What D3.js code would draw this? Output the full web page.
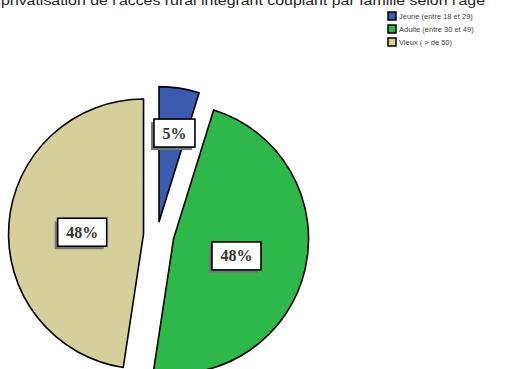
<!DOCTYPE html>
<html>
<head>
<meta charset="utf-8">
<script src="https://cdn.jsdelivr.net/npm/d3@7"></script>
<style>
  body { margin: 0; background: #fff; }
  svg { display: block; }
</style>
</head>
<body>
<div id="chart"></div>
<script>
// categories and values (percent of families)
var categories = ["Jeune (entre 18 et 29)", "Adulte (entre 30 et 49)", "Vieux ( > de 50)"];
var values = [4.8, 47.6, 47.6];
var labels = ["5%", "48%", "48%"];
var colors = ["#3b5bb0", "#2eb84a", "#d5cf9b"];
var title = "privatisation de l'accès rural intégrant couplant par famille selon l'âge";

var svg_w = 508, svg_h = 369;
var cx = 157, cy = 235, radius = 135;
var explode = [13.5, 17, 13.5];

var svg = d3.select("#chart")
      .append("svg")
      .attr("width", svg_w)
      .attr("height", svg_h);

// title, its top half runs off the page like the original
svg.append("text")
  .attr("x", 1)
  .attr("y", 5)
  .attr("textLength", 484)
  .attr("lengthAdjust", "spacingAndGlyphs")
  .style("font-family", "Liberation Sans, Arial, sans-serif")
  .style("font-size", "12px")
  .style("fill", "#222")
  .text(title);

var data = values.map(function(v, i) {
  return { cat: categories[i], value: v, label: labels[i], color: colors[i], ex: explode[i] };
});

var pie = d3.pie()
      .sort(null)
      .value(function(d) { return d.value; });

var arc = d3.arc()
      .innerRadius(0)
      .outerRadius(radius);

var arcs = pie(data);

var g = svg.append("g")
      .attr("transform", "translate(" + cx + "," + cy + ")");

var slices = g.selectAll("g.slice")
      .data(arcs)
      .enter()
      .append("g")
      .attr("class", "slice")
      .attr("transform", function(d) {
        var mid = (d.startAngle + d.endAngle) / 2;
        return "translate(" + (d.data.ex * Math.sin(mid)) + "," + (-d.data.ex * Math.cos(mid)) + ")";
      });

slices.append("path")
  .attr("d", arc)
  .style("fill", function(d) { return d.data.color; })
  .style("stroke", "#000")
  .style("stroke-width", 1.6)
  .style("stroke-linejoin", "round");

// label boxes near the sector centroid
slices.each(function(d) {
  var theta = d.endAngle - d.startAngle;
  var mid = (d.startAngle + d.endAngle) / 2;
  var dist = 4 * radius * Math.sin(theta / 2) / (3 * theta) + 3;
  var lx = dist * Math.sin(mid) + 1.5, ly = -dist * Math.cos(mid) + 3;
  var s = d3.select(this);
  var shadow = s.append("rect");
  var box = s.append("rect");
  var txt = s.append("text")
    .attr("x", lx)
    .attr("y", ly + 5.5)
    .attr("text-anchor", "middle")
    .style("font-family", "Liberation Serif, Times New Roman, serif")
    .style("font-weight", "bold")
    .style("font-size", "16px")
    .style("fill", "#333")
    .text(d.data.label);
  var bw = txt.node().getComputedTextLength() + 17, bh = 28;
  shadow
    .attr("x", lx - bw / 2 - 3)
    .attr("y", ly - bh / 2 + 3)
    .attr("width", bw)
    .attr("height", bh)
    .style("fill", "#777");
  box
    .attr("x", lx - bw / 2)
    .attr("y", ly - bh / 2)
    .attr("width", bw)
    .attr("height", bh)
    .style("fill", "#fff")
    .style("stroke", "#000")
    .style("stroke-width", 1.6);
});

// legend
var legend = svg.append("g")
      .attr("transform", "translate(388,12)");

var items = legend.selectAll("g")
      .data(data)
      .enter()
      .append("g")
      .attr("transform", function(d, i) { return "translate(0," + (i * 13) + ")"; });

items.append("rect")
  .attr("width", 8)
  .attr("height", 8)
  .style("fill", function(d) { return d.color; })
  .style("stroke", "#000")
  .style("stroke-width", 1.5);

items.append("text")
  .attr("x", 11)
  .attr("y", 7)
  .style("font-family", "Liberation Sans, Arial, sans-serif")
  .style("font-size", "7.5px")
  .style("fill", "#444")
  .text(function(d) { return d.cat; });
</script>
</body>
</html>
